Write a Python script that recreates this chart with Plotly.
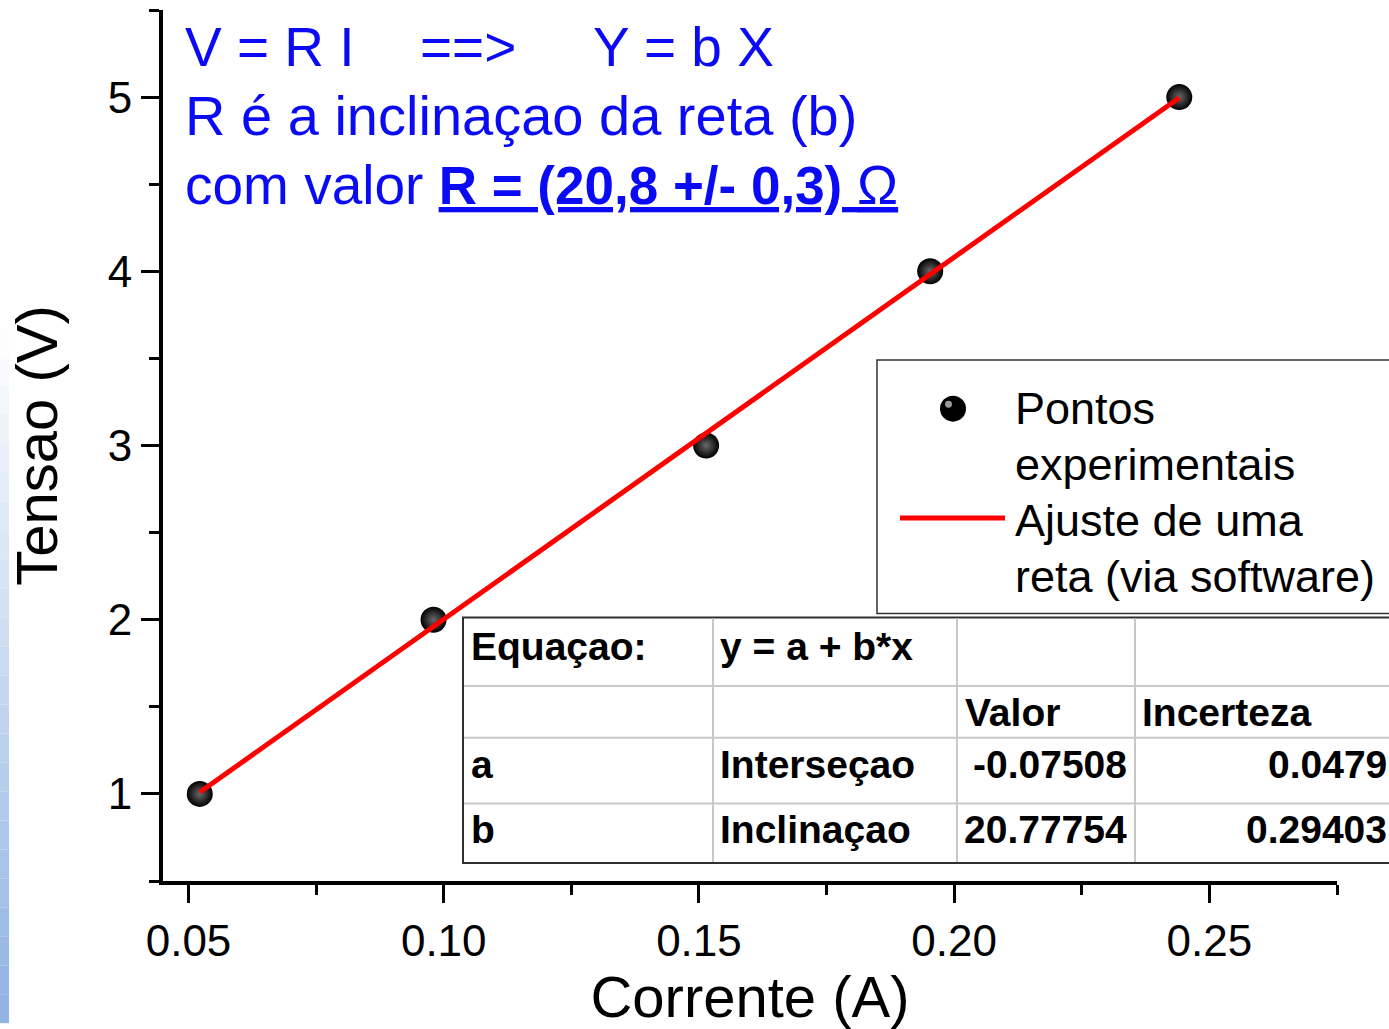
import plotly.graph_objects as go

# ---------------- data ----------------
corrente = [0.0522, 0.0980, 0.1514, 0.1953, 0.2441]      # A
tensao = [1.0, 2.0, 3.0, 4.0, 5.0]                        # V
x_tick_vals = [0.05, 0.10, 0.15, 0.20, 0.25]
y_tick_vals = [1, 2, 3, 4, 5]
param_names = ["a", "b"]
param_labels = ["Interseçao", "Inclinaçao"]
param_valor = [-0.07508, 20.77754]
param_incerteza = [0.0479, 0.29403]
equacao = "y = a + b*x"
legend_names = ["Pontos<br>experimentais", "Ajuste de uma<br>reta (via software)"]

# fitted straight line from the fit parameters
a_fit, b_fit = param_valor
fit_x = [min(corrente), max(corrente)]
fit_y = [a_fit + b_fit * xv for xv in fit_x]

# ---------------- layout helpers (pixel -> paper) ----------------
W, H = 1389, 1029
L, R, T, B = 163, 1337, 10, 886


def px(x):
    return (x - L) / (R - L)


def py(y):
    return (B - y) / (B - T)


FONT = "Liberation Sans, Arial, sans-serif"
BLUE = "#0a0af5"

fig = go.Figure()

fig.add_trace(go.Scatter(
    x=corrente, y=tensao, mode="markers", name="Pontos experimentais",
    marker=dict(size=26, color="black", line=dict(width=0),
                gradient=dict(type="radial", color="#6a6a6a")),
    showlegend=False,
))
fig.add_trace(go.Scatter(
    x=fit_x, y=fit_y, mode="lines", name="Ajuste de uma reta (via software)",
    line=dict(color="#ff0000", width=5),
    showlegend=False,
))

shapes = []
annotations = []

# left decorative blue gradient strip
n_steps = 24
y0s, y1s = 330, 1029
for i in range(n_steps):
    t0 = y0s + (y1s - y0s) * i / n_steps
    t1 = y0s + (y1s - y0s) * (i + 1) / n_steps
    f = (i + 0.5) / n_steps
    r = int(255 + (143 - 255) * f)
    g = int(255 + (179 - 255) * f)
    bcol = int(255 + (227 - 255) * f)
    shapes.append(dict(type="rect", xref="paper", yref="paper",
                       x0=px(0), x1=px(9), y0=py(t1), y1=py(t0),
                       fillcolor=f"rgb({r},{g},{bcol})", line=dict(width=0),
                       layer="below"))

# ---------------- top blue text ----------------
top = [
    dict(text="V = R I", x=px(183), y=py(47), size=55),
    dict(text="==>", x=px(418), y=py(47), size=55),
    dict(text="Y = b X", x=px(591), y=py(47), size=55),
    dict(text="R é a inclinaçao da reta (b)", x=px(183), y=py(116), size=56),
    dict(text="com valor <u><b><span style='font-size:53px'>R = (20,8 +/- 0,3) </span></b>Ω</u>",
         x=px(183), y=py(186), size=55),
]
for an in top:
    size = an.pop("size")
    an.update(xref="paper", yref="paper", xanchor="left", yanchor="middle",
              showarrow=False, font=dict(family=FONT, size=size, color=BLUE))
    annotations.append(an)

# ---------------- legend (drawn box) ----------------
shapes.append(dict(type="rect", xref="paper", yref="paper",
                   x0=px(877), x1=px(1395), y0=py(617), y1=py(362),
                   fillcolor="white", line=dict(color="#303030", width=1.5)))
shapes.append(dict(type="circle", xref="paper", yref="paper",
                   x0=px(940), x1=px(966), y0=py(424), y1=py(398),
                   fillcolor="black", line=dict(width=0)))
shapes.append(dict(type="circle", xref="paper", yref="paper",
                   x0=px(945), x1=px(952), y0=py(410), y1=py(403),
                   fillcolor="#9a9a9a", line=dict(width=0)))
shapes.append(dict(type="line", xref="paper", yref="paper",
                   x0=px(900), x1=px(1005), y0=py(521), y1=py(521),
                   line=dict(color="#ff0000", width=5)))
leg_lines = legend_names[0].split("<br>") + legend_names[1].split("<br>")
for txt, yc in zip(leg_lines, [411, 467, 523, 580]):
    annotations.append(dict(text=txt, xref="paper", yref="paper",
                            x=px(1013), y=py(yc), xanchor="left", yanchor="middle",
                            showarrow=False, font=dict(family=FONT, size=45, color="black")))

# ---------------- parameter table ----------------
tx0, tx1 = 463, 1395
ty0, ty1 = 621, 868
cols = [713, 957, 1135]
rows = [690, 742, 808]
shapes.append(dict(type="rect", xref="paper", yref="paper",
                   x0=px(tx0), x1=px(tx1), y0=py(ty1), y1=py(ty0),
                   fillcolor="white", line=dict(color="#303030", width=2)))
for cx in cols:
    shapes.append(dict(type="line", xref="paper", yref="paper",
                       x0=px(cx), x1=px(cx), y0=py(ty1 - 1), y1=py(ty0 + 1),
                       line=dict(color="#c8c8c8", width=2)))
for ry in rows:
    shapes.append(dict(type="line", xref="paper", yref="paper",
                       x0=px(tx0 + 1), x1=px(tx1), y0=py(ry), y1=py(ry),
                       line=dict(color="#c8c8c8", width=2)))


def cell(text, x, y, anchor="left"):
    annotations.append(dict(text=f"<b>{text}</b>", xref="paper", yref="paper",
                            x=px(x), y=py(y), xanchor=anchor, yanchor="middle",
                            showarrow=False,
                            font=dict(family=FONT, size=39, color="black")))


cell("Equaçao:", 469, 650)
cell(equacao, 718, 650)
cell("Valor", 963, 717)
cell("Incerteza", 1140, 717)
row_y = [769, 834]
for nm, lab, val, inc, yc in zip(param_names, param_labels, param_valor,
                                 param_incerteza, row_y):
    cell(nm, 469, yc)
    cell(lab, 718, yc)
    cell(f"{val:.5f}", 1129, yc, anchor="right")
    cell(f"{inc}", 1389, yc, anchor="right")

fig.update_layout(
    width=W, height=H,
    margin=dict(l=L, r=W - R, t=T, b=H - B, pad=0),
    paper_bgcolor="white", plot_bgcolor="white",
    font=dict(family=FONT, color="black"),
    shapes=shapes, annotations=annotations,
    showlegend=False,
)

fig.update_xaxes(
    range=[0.045, 0.275], showgrid=False, zeroline=False,
    showline=True, linecolor="black", linewidth=4,
    tickmode="array", tickvals=x_tick_vals,
    ticktext=[f"{v:.2f}" for v in x_tick_vals],
    ticks="outside", ticklen=18, tickwidth=3, tickcolor="black",
    minor=dict(tickmode="linear", tick0=0.025, dtick=0.025, ticks="outside",
               ticklen=10, tickwidth=3, tickcolor="black", showgrid=False),
    tickfont=dict(family=FONT, size=44, color="black"),
    title=dict(text="Corrente (A)", font=dict(family=FONT, size=58, color="black"),
               standoff=14),
)
fig.update_yaxes(
    range=[0.5, 5.5], showgrid=False, zeroline=False,
    showline=True, linecolor="black", linewidth=4,
    tickmode="array", tickvals=y_tick_vals,
    ticks="outside", ticklen=18, tickwidth=3, tickcolor="black",
    minor=dict(tickmode="linear", tick0=0.5, dtick=0.5, ticks="outside",
               ticklen=10, tickwidth=3, tickcolor="black", showgrid=False),
    tickfont=dict(family=FONT, size=44, color="black"),
    title=dict(text="Tensao (V)", font=dict(family=FONT, size=58, color="black"),
               standoff=32),
)

fig.write_html("out.html", config={"displayModeBar": False},
               post_script="document.body.style.margin='0';document.body.style.overflow='hidden';")
